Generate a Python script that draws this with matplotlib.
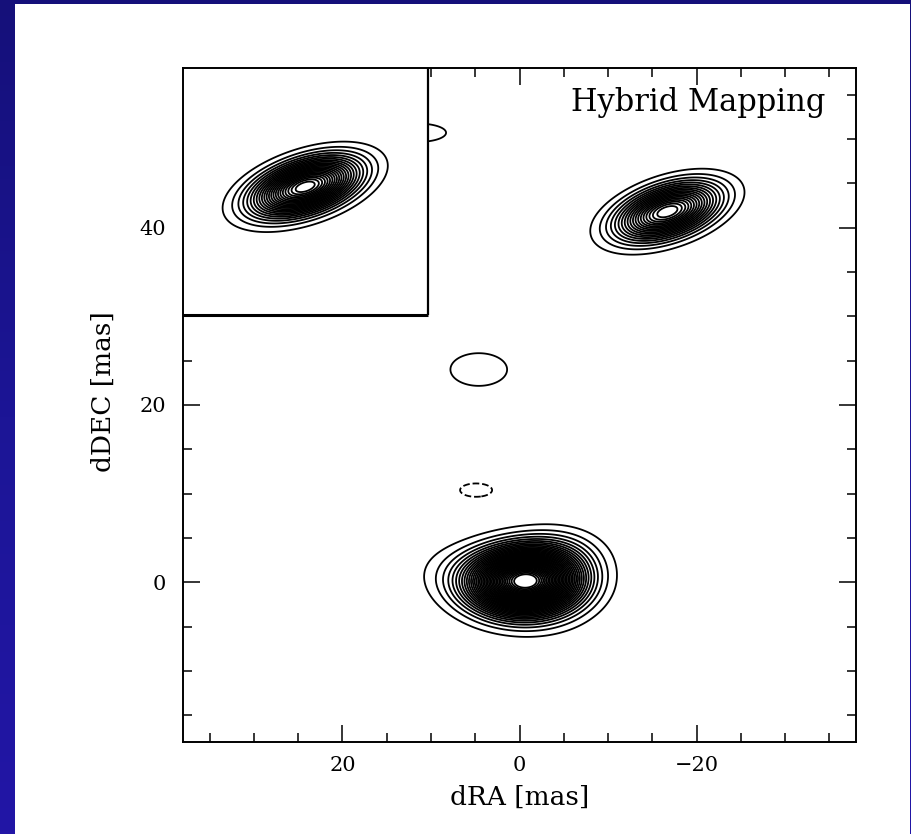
import numpy as np
import matplotlib
matplotlib.use("Agg")
import matplotlib.pyplot as plt
from matplotlib.patches import Rectangle
from matplotlib.colors import LinearSegmentedColormap

# Clean-component model of the VLBI map (offsets in mas, RA increasing to the left)
# each component: RA offset, DEC offset, peak (fraction of map peak), sigma_major, sigma_minor, angle (deg)
comp_ra    = [-0.8,  2.5, -4.5,  4.6,  4.9, -16.7, 11.48]
comp_dec   = [ 0.2, -0.8,  3.0, 24.0, 10.4,  41.8, 50.7]
comp_peak  = [ 0.93, 0.10, 0.07, 0.04, -0.03, 0.50, 0.037]
comp_smaj  = [ 3.7,  4.6,  3.2,  3.3,  3.0,   3.7,  3.6]
comp_smin  = [ 2.2,  2.3,  2.0,  1.9,  1.25,  1.7,  1.17]
comp_angle = [ 0.0,  15.0, 0.0,  0.0,  0.0,  -18.0, 0.0]

# component shown in the corner inset
inset_ra, inset_dec = 24.2, 44.6
inset_peak, inset_smaj, inset_smin, inset_angle = 0.60, 3.85, 1.72, -18.0

# contour levels as fractions of the map peak: multiples of the lowest level
base_level = 0.025
top_level = 0.95

xlim = (38.0, -38.0)
ylim = (-18.0, 58.0)
x_major = [20, 0, -20]
y_major = [0, 20, 40]
title_text = "Hybrid Mapping"
xlabel_text = "dRA [mas]"
ylabel_text = "dDEC [mas]"


def gauss(X, Y, x0, y0, amp, sa, sb, ang):
    t = np.deg2rad(ang)
    dx, dy = X - x0, Y - y0
    u = dx * np.cos(t) + dy * np.sin(t)
    v = -dx * np.sin(t) + dy * np.cos(t)
    return amp * np.exp(-(u ** 2 / (2 * sa ** 2) + v ** 2 / (2 * sb ** 2)))


gx = np.linspace(xlim[1], xlim[0], 901)
gy = np.linspace(ylim[0], ylim[1], 901)
X, Y = np.meshgrid(gx, gy)

field = np.zeros_like(X)
for p in zip(comp_ra, comp_dec, comp_peak, comp_smaj, comp_smin, comp_angle):
    field += gauss(X, Y, *p)

inset_field = gauss(X, Y, inset_ra, inset_dec, inset_peak, inset_smaj, inset_smin, inset_angle)

pos_levels = list(np.arange(base_level, top_level + 1e-9, base_level))
levels = [-base_level] + pos_levels

W, H, DPI = 912, 834, 100
fig = plt.figure(figsize=(W / DPI, H / DPI), dpi=DPI)
fig.patch.set_facecolor("#1c1596")

# blue slide background, darker at the top
back = fig.add_axes([0, 0, 1, 1], zorder=-20)
back.set_axis_off()
blue = LinearSegmentedColormap.from_list("slide", ["#15107a", "#1c1596", "#2216a6"])
back.imshow(np.linspace(0, 1, 256)[:, None], aspect="auto", cmap=blue,
            extent=(0, 1, 0, 1), origin="upper")
back.set_xlim(0, 1)
back.set_ylim(0, 1)

# white page behind the plot
bg = fig.add_axes([15 / W, 0, (910 - 15) / W, (H - 4) / H], zorder=-10)
bg.set_axis_off()
bg.add_patch(Rectangle((0, 0), 1, 1, transform=bg.transAxes,
                       facecolor="white", edgecolor="none"))

ax = fig.add_axes([183 / W, (H - 742) / H, 673 / W, 674 / H])
ax.set_facecolor("white")

lw = 1.3
ax.contour(X, Y, field, levels=levels, colors="black", linewidths=lw,
           negative_linestyles="dashed", zorder=2)

# inset box in the upper-left corner
box_x1 = 10.35
box_y0 = 30.2
ax.add_patch(Rectangle((box_x1, box_y0), xlim[0] - box_x1, ylim[1] - box_y0,
                       facecolor="white", edgecolor="none", zorder=2.1))
ax.contour(X, Y, np.where((X >= box_x1) & (Y >= box_y0), inset_field, 0.0),
           levels=pos_levels, colors="black", linewidths=lw, zorder=2.2)
ax.plot([box_x1, box_x1], [box_y0, ylim[1]], color="black", lw=1.6, zorder=2.3,
        solid_capstyle="butt")
ax.plot([xlim[0], box_x1], [box_y0, box_y0], color="black", lw=2.2, zorder=2.3,
        solid_capstyle="butt")

ax.set_xlim(*xlim)
ax.set_ylim(*ylim)
ax.set_aspect("auto")

serif = "DejaVu Serif"
ax.set_xticks(x_major)
ax.set_yticks(y_major)
ax.set_xticks(np.arange(-35, 36, 5), minor=True)
ax.set_yticks(np.arange(-15, 56, 5), minor=True)
ax.set_xticklabels([f"{v}".replace("-", "\u2212") for v in x_major],
                   fontfamily=serif, fontsize=15)
ax.set_yticklabels([f"{v}" for v in y_major], fontfamily=serif, fontsize=15)
ax.tick_params(which="both", direction="in", top=True, right=True,
               width=1.1, color="black")
ax.tick_params(which="major", length=12.5)
ax.tick_params(which="minor", length=6.5)
ax.tick_params(axis="x", which="major", pad=10)
ax.tick_params(axis="y", which="major", pad=12)
for s in ax.spines.values():
    s.set_linewidth(1.4)
    s.set_zorder(3)

ax.set_xlabel(xlabel_text, fontfamily=serif, fontsize=19)
ax.set_ylabel(ylabel_text, fontfamily=serif, fontsize=19)
ax.xaxis.set_label_coords(0.5, -0.064)
ax.yaxis.set_label_coords(-0.10, 0.52)

ax.text(0.955, 0.972, title_text, transform=ax.transAxes, ha="right", va="top",
        fontfamily=serif, fontsize=22, zorder=4)

fig.savefig("out.png", dpi=DPI, facecolor=fig.get_facecolor())
